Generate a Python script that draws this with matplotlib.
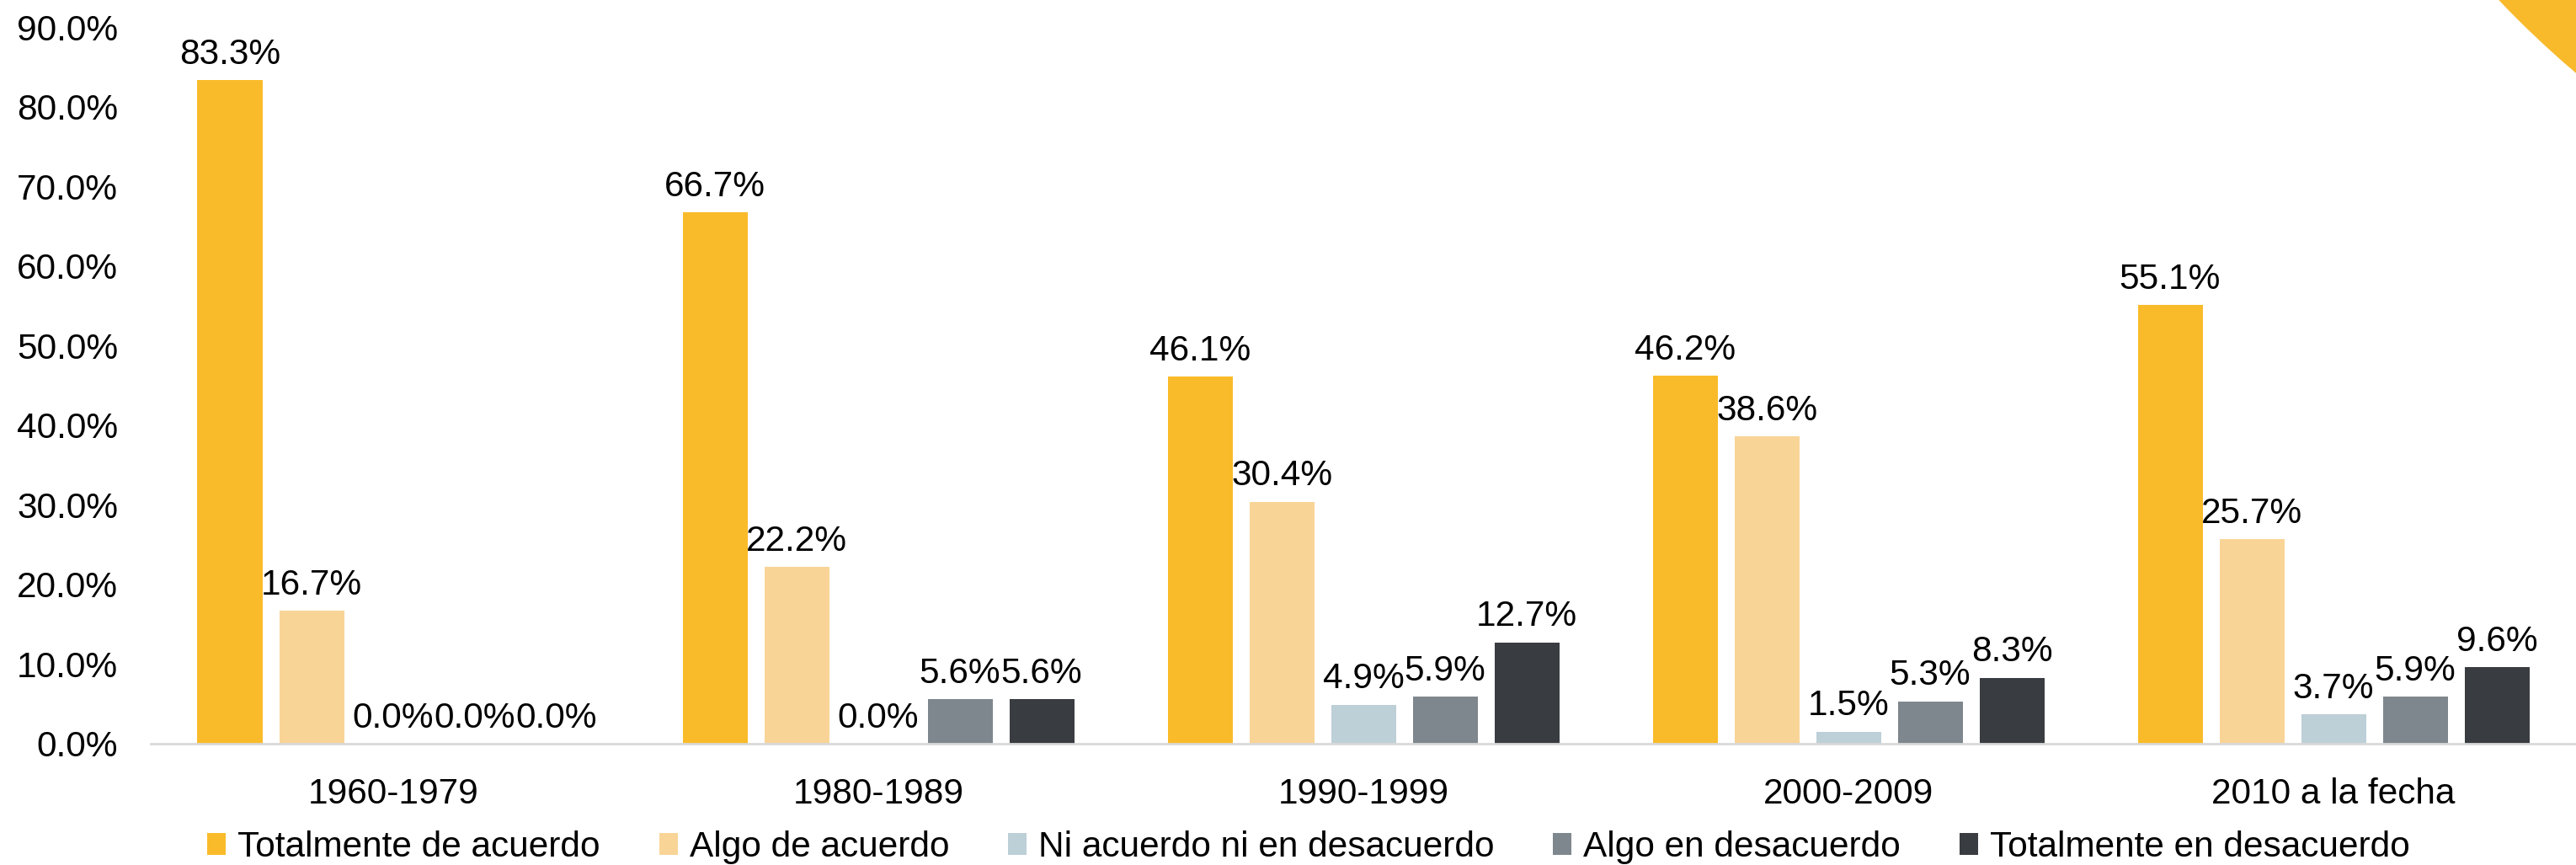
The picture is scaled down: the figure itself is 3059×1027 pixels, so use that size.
import matplotlib
matplotlib.use("Agg")
import matplotlib.pyplot as plt
import matplotlib.patches as mpatches
import numpy as np

plt.rcParams['font.family'] = ['Liberation Sans', 'DejaVu Sans']

# ── Data ─────────────────────────────────────────────────────────────
periods = ["1960-1979", "1980-1989", "1990-1999", "2000-2009", "2010 a la fecha"]
series_names = ["Totalmente de acuerdo", "Algo de acuerdo",
                "Ni acuerdo ni en desacuerdo", "Algo en desacuerdo",
                "Totalmente en desacuerdo"]
tot_acuerdo = [83.3, 66.7, 46.1, 46.2, 55.1]
algo_acuerdo = [16.7, 22.2, 30.4, 38.6, 25.7]
ni_ni = [0.0, 0.0, 4.9, 1.5, 3.7]
algo_desacuerdo = [0.0, 5.6, 5.9, 5.3, 5.9]
tot_desacuerdo = [0.0, 5.6, 12.7, 8.3, 9.6]
yticks = [0, 10, 20, 30, 40, 50, 60, 70, 80, 90]

# ── Palette ──────────────────────────────────────────────────────────
COLORS = ["#FABB2A", "#F9D497", "#BDCFD7", "#7E878D", "#393C40"]
AXIS_GRAY = "#D9D9D9"

W, H, DPI = 3059, 1027, 100
fig = plt.figure(figsize=(W / DPI, H / DPI), dpi=DPI, facecolor="white")
ax = fig.add_axes([179 / W, 1 - 883 / H, 1 - 179 / W, (883 - 32) / H])

# decorative arc top right
arc = mpatches.Ellipse((3822 / W, 1 - (-812) / H), 2 * 1179 / W, 2 * 1179 / H,
                       facecolor="#F8BA2B", edgecolor="none",
                       transform=fig.transFigure, zorder=0)
fig.add_artist(arc)

all_series = [tot_acuerdo, algo_acuerdo, ni_ni, algo_desacuerdo, tot_desacuerdo]
x = np.arange(len(periods))
pitch = 97 / 576
bw = 77 / 576

for i, (name, vals, col) in enumerate(zip(series_names, all_series, COLORS)):
    xs = x + (i - 2) * pitch
    bars = ax.bar(xs, vals, width=bw, color=col, label=name, zorder=2)
    for b, v in zip(bars, vals):
        ax.annotate(f"{v:.1f}%", (b.get_x() + b.get_width() / 2, v),
                    xytext=(0, 14), textcoords="offset points",
                    ha="center", va="baseline", fontsize=30.5, color="black")

ax.set_xlim(-0.5, len(periods) - 0.5)
ax.set_ylim(0, 90)
ax.set_yticks(yticks)
ax.set_yticklabels([f"{t:.1f}%" for t in yticks])
ax.set_xticks(x)
ax.set_xticklabels(periods)
ax.tick_params(axis="both", length=0, labelsize=30.5)
ax.tick_params(axis="y", pad=28)
ax.tick_params(axis="x", pad=29)

for s in ["top", "right", "left"]:
    ax.spines[s].set_visible(False)
ax.spines["bottom"].set_color(AXIS_GRAY)
ax.spines["bottom"].set_linewidth(2)
ax.set_facecolor("none")

fig.legend(loc="center", bbox_to_anchor=(0.508, 1 - 1006 / H), ncol=5,
           frameon=False, fontsize=30.5, handlelength=0.52, handleheight=0.57,
           handletextpad=0.33, columnspacing=1.65, borderaxespad=0)

fig.savefig("out.png", dpi=DPI, facecolor="white")
